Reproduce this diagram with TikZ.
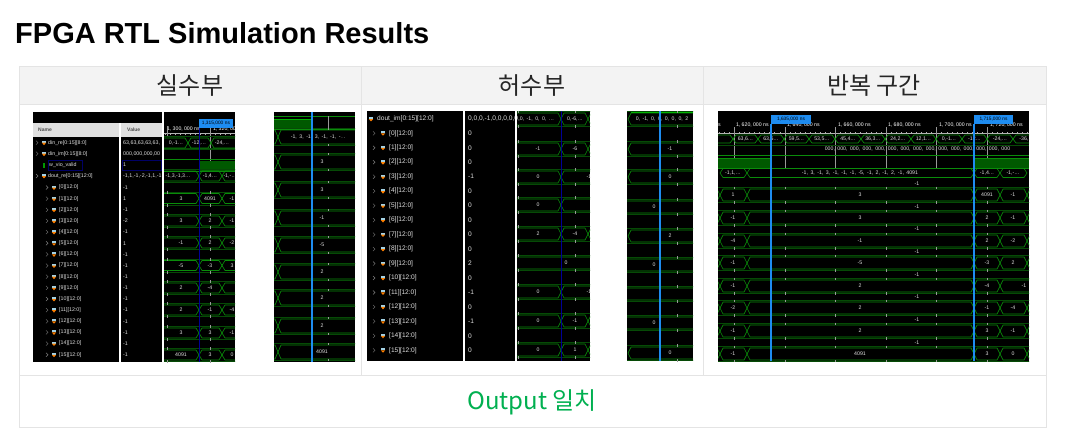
\documentclass[tikz,border=0pt]{standalone}
\usepackage{fontspec}
\setmainfont{Liberation Sans}
\newfontfamily\krfont{Noto Sans CJK KR}
\usetikzlibrary{positioning}
\definecolor{gridgray}{HTML}{E4E4E4}
\definecolor{headgray}{HTML}{F3F3F3}
\definecolor{busgreen}{HTML}{0A8C0A}
\definecolor{busdim}{HTML}{064A06}
\definecolor{vivadoblue}{HTML}{1E8CF0}
\definecolor{matchgreen}{HTML}{00B050}
\tikzset{
  gridline/.style={draw=gridgray,line width=0.9pt},
  headtext/.style={font=\krfont\fontsize{24}{28}\selectfont,text=black!85},
  busline/.style={draw=busgreen,line width=0.65pt},
  busdark/.style={draw=busdim,line width=0.7pt},
  wavetext/.style={font=\fontsize{5.2}{6}\selectfont,text=black!12,inner sep=0pt},
  namelabel/.style={font=\fontsize{5.3}{6}\selectfont,text=black!12,anchor=west,inner sep=0pt},
  biglabel/.style={font=\fontsize{6.6}{7}\selectfont,text=black!12,anchor=west,inner sep=0pt},
  rowtick/.style={draw=black!40,line width=0.6pt},
  cursorline/.style={draw=vivadoblue,line width=1.2pt},
  timebox/.style={fill=vivadoblue,text=black,font=\fontsize{4.8}{5}\selectfont,inner sep=0pt,minimum height=9pt}
}
\newcommand{\bush}{6}
\newcommand{\cgap}{,\hspace{2.5pt}}
\newcommand{\tgap}{,\hspace{1.2pt}}
% one row of bus cells: y, cell list a/b/text x/value
\newcommand{\busrow}[2]{
  \draw[busdark] (0,#1-\bush-1.5) -- (1075,#1-\bush-1.5) (0,#1+\bush+1.5) -- (1075,#1+\bush+1.5);
  \foreach \xa/\xb/\xt/\val in #2{
    \draw[busline] (\xa,#1) -- (\xa+3,#1-\bush) -- (\xb-3,#1-\bush) -- (\xb,#1) -- (\xb-3,#1+\bush) -- (\xa+3,#1+\bush) -- cycle;
    \node[wavetext] at (\xt,#1) {\val};
  }
}
\newcommand{\sigicon}[2]{
  \fill[black!25!cyan!40!white] (#1-2.2,#2-2) rectangle (#1+2.2,#2);
  \fill[orange] (#1-2.2,#2) -- (#1+2.2,#2) -- (#1,#2+2.4) -- cycle;
}
\newcommand{\chev}[2]{\draw[black!50,line width=0.4pt] (#1-1,#2-2) -- (#1+1,#2) -- (#1-1,#2+2);}
\begin{document}
\begin{tikzpicture}[x=1pt,y=-1pt]
  \useasboundingbox (0,0) rectangle (1075,434);
  \fill[white] (0,0) rectangle (1075,434);
  \node[anchor=west,inner sep=0pt,font=\bfseries\fontsize{29}{32}\selectfont] (title) at (15,33) {FPGA RTL Simulation Results};

  % table
  \fill[headgray] (19,66) rectangle (1046,104);
  \draw[gridline] (19,66) rectangle (1046,427);
  \draw[gridline] (19,104) -- (1046,104);
  \draw[gridline] (19,375) -- (1046,375);
  \foreach \x in {361,703}
    \draw[gridline] (\x,66) -- (\x,375);
  \node[headtext] (headre) at (190,86) {실수부};
  \node[headtext] (headim) at (532,86) {허수부};
  \node[headtext] (headloop) at (874,86) {반복 구간};
  \node[font=\krfont\fontsize{24}{28}\selectfont,text=matchgreen] (match) at (532,402) {Output 일치};

  % real part: names and values
  \fill[black] (33,112) rectangle (235,362);
  \fill[black!12] (33,123) rectangle (162,137);
  \node[namelabel,font=\bfseries\fontsize{5}{6}\selectfont,text=black!70] (namehead) at (38,130) {Name};
  \node[namelabel,font=\bfseries\fontsize{5}{6}\selectfont,text=black!70] (valuehead) at (127,130) {Value};
  \draw[draw=blue!40!black,line width=0.5pt] (48,160) rectangle (82,170) (122,160) rectangle (161,170);
  \foreach \y/\name/\val in {
     142.7/{din\_re[0:15][8:0]}/{63,63,63,63,63,},
     153.7/{din\_im[0:15][8:0]}/{000,000,000,00},
     176/{dout\_re[0:15][12:0]}/{-1,1,-1,-2,-1,1,-1}}{
    \chev{37}{\y}
    \sigicon{44}{\y}
    \node[namelabel] at (48,\y) {\name};
    \node[namelabel] at (123,\y) {\val};
  }
  \fill[green!60!black] (43,163) rectangle (45,168);
  \node[namelabel] (viovalid) at (49,165) {w\_vio\_valid};
  \node[namelabel] (vioval) at (123,165) {1};
  \foreach \k/\val in {0/-1,1/1,2/-1,3/-2,4/-1,5/1,6/-1,7/-1,8/-1,9/-1,10/-1,11/-1,12/-1,13/-1,14/-1,15/-1}{
    \pgfmathsetmacro\y{187.5+11.15*\k}
    \chev{47}{\y}
    \sigicon{54}{\y}
    \node[namelabel] at (59,\y) {[\k][12:0]};
    \node[namelabel] at (123,\y) {\val};
  }
  \fill[white] (119,123) rectangle (120.5,362);
  \fill[white] (162,112) rectangle (163.5,362);
  % real part: first wave
  \begin{scope}
    \clip (164,112) rectangle (235,362);
    \renewcommand{\bush}{5}
    \node[wavetext,anchor=west,text=white] (timea) at (167,129) {1\tgap300\tgap000 ns};
    \node[wavetext,anchor=west,text=white] (timeb) at (213,129) {1\tgap320\tgap000 ns};
    \draw[draw=black!30,line width=0.4pt] (164,133) -- (235,133);
    \foreach \i in {0,...,14}
      \draw[draw=black!30,line width=0.4pt] (165+5*\i,133) -- (165+5*\i,135);
    \draw[rowtick] (210,126) -- (210,172) (167,126) -- (167,137);
    \fill[green!35!black] (199,161) rectangle (235,171);
    \draw[busline] (164,159) -- (235,159) (164,171) -- (235,171);
    \draw[busdark] (164,148.5) -- (235,148.5);
    \foreach \y/\cells in {
       143/{150/188/176/{0,-1\ldots},188/211/199/{-12,\ldots},211/240/222/{-24,\ldots}},
       176/{130/199/178/{-1,3,-1,3\ldots},199/222/210/{-1,4\ldots},222/245/230/{-1,-\ldots}},
       198.5/{140/199/181/3,199/222/210/4091,222/260/232/-1},
       221/{140/199/181/3,199/222/210/2,222/260/232/-1},
       243/{140/199/181/-1,199/222/210/2,222/260/232/-2},
       265.5/{140/199/181/-5,199/222/210/-3,222/260/232/3},
       288/{140/199/181/2,199/222/210/-4,222/260/222/{}},
       310/{140/199/181/2,199/222/210/-1,222/260/232/-4},
       333/{140/199/181/3,199/222/210/3,222/260/232/-1},
       355/{140/199/181/4091,199/222/210/3,222/260/232/0}}{
      \busrow{\y}{\cells}
    }
    \foreach \y in {198.5,221,243,265.5,288,310,333,355}
      \draw[rowtick] (210,\y-8) -- (210,\y-5) (210,\y+5) -- (210,\y+8) (167,\y-8) -- (167,\y-5) (167,\y+5) -- (167,\y+8);
    \draw[draw=blue!60!black,line width=0.7pt] (199,125) -- (199,362);
  \end{scope}
  \node[timebox,text width=34pt,align=center] (cursora) at (216,123.5) {1,315,000 ns};

  % real part: second wave
  \fill[black] (274,112) rectangle (355,362);
  \begin{scope}
    \clip (274,112) rectangle (355,362);
    \renewcommand{\bush}{7}
    \fill[green!35!black] (274,119) rectangle (312,129);
    \draw[busline,draw=green!70!black] (274,119) -- (312,119);
    \draw[busline] (274,116) -- (355,116) (274,129) -- (355,129);
    \draw[rowtick] (328,116) -- (328,130);
    \foreach \y/\cells in {
       137/{250/278/278/{},278/400/318/{-1\cgap3\cgap-1\cgap3\cgap-1\cgap-1\cgap-\,.\,.}},
       162/{250/278/278/{},278/400/322/3},
       190/{250/278/278/{},278/400/322/3},
       218/{250/278/278/{},278/400/322/-1},
       245/{250/278/278/{},278/400/322/-5},
       272/{250/278/278/{},278/400/322/2},
       298/{250/278/278/{},278/400/322/2},
       326/{250/278/278/{},278/400/322/2},
       352/{250/278/278/{},278/400/322/4091}}{
      \busrow{\y}{\cells}
      \draw[rowtick] (328,\y-9) -- (328,\y-7) (328,\y+7) -- (328,\y+9);
    }
    \draw[cursorline] (312,112) -- (312,362);
  \end{scope}

  % imaginary part: names and values
  \fill[black] (367,111) rectangle (590,361);
  \sigicon{371}{119}
  \node[biglabel] (dtim) at (377,119) {dout\_im[0:15][12:0]};
  \node[biglabel] (dtimval) at (468,119) {0,0,0,-1,0,0,0,0,0,};
  \foreach \k/\val in {0/0,1/0,2/0,3/-1,4/0,5/0,6/0,7/0,8/0,9/2,10/0,11/-1,12/0,13/-1,14/0,15/0}{
    \pgfmathsetmacro\y{133.3+14.47*\k}
    \chev{374}{\y}
    \sigicon{383}{\y}
    \node[biglabel] at (389,\y) {[\k][12:0]};
    \node[biglabel] at (468,\y) {\val};
  }
  \fill[white] (463,111) rectangle (464.5,361);
  \fill[white] (515,111) rectangle (516.5,361);
  % imaginary part: first wave
  \begin{scope}
    \clip (517,111) rectangle (590,361);
    \foreach \y/\cells in {
       119/{500/561/537/{0\cgap-1\cgap0\cgap0\cgap\ldots},561/588/575/{0,-6,\ldots},588/640/588/{}},
       149/{500/561/538/-1,561/588/575/-6,588/640/588/{}},
       177/{500/561/538/0,561/640/589/-1},
       205/{500/561/538/0,561/640/561/{}},
       234/{500/561/538/2,561/588/575/-4,588/640/588/{}},
       263/{500/640/566/0},
       292/{500/561/538/0,561/640/589/-1},
       321/{500/561/538/0,561/588/575/-1,588/640/588/{}},
       350/{500/561/538/0,561/588/575/1,588/640/588/{}}}{
      \busrow{\y}{\cells}
      \draw[rowtick] (575,\y-9) -- (575,\y-6) (575,\y+6) -- (575,\y+9) (518,\y-9) -- (518,\y-6) (518,\y+6) -- (518,\y+9);
    }
    \draw[draw=blue!60!black,line width=1pt] (561,111) -- (561,361);
  \end{scope}

  % imaginary part: second wave
  \fill[black] (627,111) rectangle (693,361);
  \begin{scope}
    \clip (627,111) rectangle (693,361);
    \draw[draw=green!80!black,line width=1.4pt] (631,112) -- (693,112);
    \foreach \y/\cells in {
       119/{628/760/662/{0\cgap-1\cgap0\cgap0\cgap0\cgap0\cgap0\cgap2}},
       149/{628/760/670/-1},
       177/{628/760/670/0},
       207/{600/760/654/0},
       236/{628/760/670/2},
       265/{600/760/654/0},
       294/{600/760/600/{}},
       323/{600/760/654/0},
       353/{628/760/670/0}}{
      \busrow{\y}{\cells}
      \draw[rowtick] (677,\y-9) -- (677,\y-6) (677,\y+6) -- (677,\y+9);
    }
    \draw[cursorline] (660,111) -- (660,361);
  \end{scope}

  % loop range wave
  \fill[black] (718,111) rectangle (1029,361);
  \begin{scope}
    \clip (718,111) rectangle (1029,361);
    \foreach \i in {0,...,62}
      \draw[draw=black!30,line width=0.4pt] (719+5.06*\i,132) -- (719+5.06*\i,134);
    \draw[draw=black!30,line width=0.4pt] (718,133) -- (1029,133);
    \foreach \x in {734,785,835,886,936,987}
      \draw[rowtick] (\x,127) -- (\x,168);
    \node[wavetext,anchor=west,text=white] (rulera) at (736,125) {1\tgap620\tgap000 ns};
    \node[wavetext,anchor=west,text=white] (rulerb) at (787,125) {1\tgap640\tgap000 ns};
    \node[wavetext,anchor=west,text=white] (rulerc) at (838,125) {1\tgap660\tgap000 ns};
    \node[wavetext,anchor=west,text=white] (rulerd) at (888,125) {1\tgap680\tgap000 ns};
    \node[wavetext,anchor=west,text=white] (rulere) at (939,125) {1\tgap700\tgap000 ns};
    \node[wavetext,anchor=west,text=white] (rulerf) at (990,125) {1\tgap720\tgap000 ns};
    \node[wavetext,anchor=east,text=white] (rulerz) at (721,125) {s};
    % din_re cells
    \draw[busdark] (718,145) -- (1029,145);
    \foreach \xa/\xb/\val in {
       708/733/{},733/758/{63,6\ldots},758/784/{63,6\ldots},784/809/{59,5\ldots},
       809/835/{53,5\ldots},835/861/{45,4\ldots},861/885/{36,3\ldots},885/911/{24,2\ldots},
       911/936/{12,1\ldots},936/962/{0,-1\ldots},962/987/{-12\ldots},987/1013/{-24,\ldots},1013/1040/{-36,\ldots}}{
      \draw[busline] (\xa,139) -- (\xa+3,135) -- (\xb-3,135) -- (\xb,139) -- (\xb-3,143) -- (\xa+3,143) -- cycle;
      \node[wavetext] at ({(\xa+\xb)/2},139) {\val};
    }
    \node[wavetext] (imrow) at (917.5,149) {000\cgap000\cgap000\cgap000\cgap000\cgap000\cgap000\cgap000\cgap000\cgap000\cgap000\cgap000\cgap000\cgap000\cgap000};
    % valid
    \fill[green!35!black] (718,158) rectangle (771,168);
    \fill[green!35!black] (974,158) rectangle (1029,168);
    \draw[busline] (718,155) -- (1029,155) (718,168) -- (1029,168);
    \draw[busline] (718,158) -- (771,158) (974,158) -- (1029,158);
    % dout_re cells
    \draw[busline] (720,173) -- (723,168.5) -- (744,168.5) -- (747,173) -- (744,177.5) -- (723,177.5) -- cycle;
    \draw[busline] (747,173) -- (750,168.5) -- (971,168.5) -- (974,173) -- (971,177.5) -- (750,177.5) -- cycle;
    \draw[busline] (974,173) -- (977,168.5) -- (997,168.5) -- (1000,173) -- (997,177.5) -- (977,177.5) -- cycle;
    \draw[busline] (1000,173) -- (1003,168.5) -- (1024,168.5) -- (1027,173) -- (1024,177.5) -- (1003,177.5) -- cycle;
    \node[wavetext] (rea) at (733,173) {-1,1,\ldots};
    \node[wavetext] (reb) at (860,173) {-1\cgap3\cgap-1\cgap3\cgap-1\cgap-1\cgap-1\cgap-5\cgap-1\cgap2\cgap-1\cgap2\cgap-1\cgap4091};
    \node[wavetext] (rec) at (987,173) {-1,4\ldots};
    \node[wavetext] (red) at (1013,173) {-1,-\ldots};
    % one-bit bus rows
    \foreach \y/\cells in {
       195/{690/720/720/{},720/747/733/1,747/974/860/3,974/1000/987/4091,1000/1027/1013/-1,1027/1060/1027/{}},
       218/{690/720/720/{},720/747/733/-1,747/974/860/3,974/1000/987/2,1000/1027/1013/-1,1027/1060/1027/{}},
       241/{690/720/720/{},720/747/733/-4,747/974/860/-1,974/1000/987/2,1000/1027/1013/-2,1027/1060/1027/{}},
       263/{690/720/720/{},720/747/733/-1,747/974/860/-5,974/1000/987/-3,1000/1027/1013/2,1027/1060/1027/{}},
       286/{690/720/720/{},720/747/733/-1,747/974/860/2,974/1000/987/-4,1000/1060/1024/-1},
       308/{690/720/720/{},720/747/733/-2,747/974/860/2,974/1000/987/-1,1000/1027/1013/-4,1027/1060/1027/{}},
       331/{690/720/720/{},720/747/733/-1,747/974/860/2,974/1000/987/3,1000/1027/1013/-1,1027/1060/1027/{}},
       354/{690/720/720/{},720/747/733/-1,747/974/860/4091,974/1000/987/3,1000/1027/1013/0,1027/1060/1027/{}}}{
      \busrow{\y}{\cells}
      \foreach \x in {734,785,835,886,936,987}
        \draw[rowtick] (\x,\y-8.5) -- (\x,\y-6) (\x,\y+6) -- (\x,\y+8.5);
    }
    \foreach \y in {184,207,229,252,275,297,320,343}
      \node[wavetext] at (917,\y) {-1};
    \draw[cursorline] (771,124) -- (771,361);
    \draw[cursorline] (974,124) -- (974,361);
  \end{scope}
  \node[timebox,text width=40pt,align=center] (cursorb) at (791,119.5) {1,635,000 ns};
  \node[timebox,text width=39pt,align=center] (cursorc) at (993.5,119.5) {1,715,000 ns};
\end{tikzpicture}
\end{document}
